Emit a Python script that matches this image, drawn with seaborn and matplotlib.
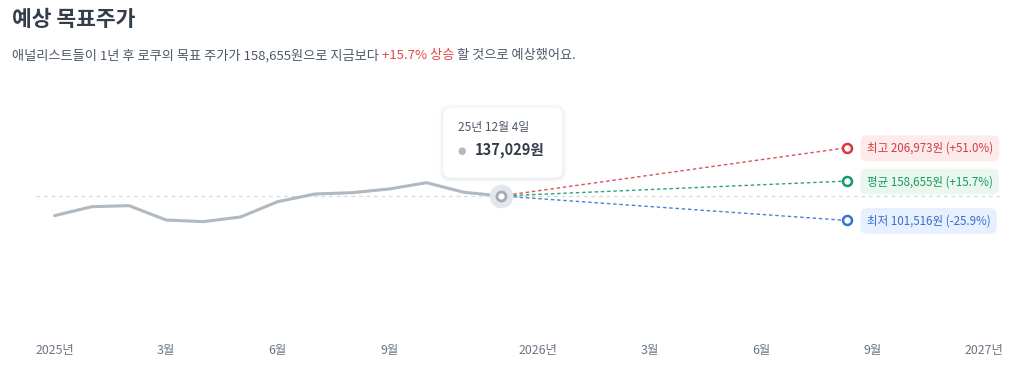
import matplotlib
matplotlib.use("Agg")
import numpy as np
import pandas as pd
import seaborn as sns
import matplotlib.pyplot as plt
from matplotlib.patches import FancyBboxPatch
from matplotlib.transforms import IdentityTransform

# ---------------- data ----------------
hist_idx = list(range(13))
hist_price = [108500, 121500, 123000, 102200, 99800, 106600, 128800,
              139900, 141800, 147200, 156300, 142400, 137029]
target_idx = 21.3
target_names = ["최고", "평균", "최저"]
target_price = [206973, 158655, 101516]
target_pct = ["+51.0%", "+15.7%", "-25.9%"]
tick_pos = [0, 3, 6, 9, 13, 16, 19, 22, 25]
tick_labels = ["2025년", "3월", "6월", "9월", "2026년", "3월", "6월", "9월", "2027년"]
current_date = "25년 12월 4일"
title = "예상 목표주가"
sub_a = "애널리스트들이 1년 후 로쿠의 목표 주가가 158,655원으로 지금보다 "
sub_b = "+15.7% 상승"
sub_c = " 할 것으로 예상했어요."

# ---------------- style ----------------
sns.set_theme(style="white")
plt.rcParams["font.family"] = ["Noto Sans CJK KR", "DejaVu Sans"]

line_c = ["#d9363e", "#17996b", "#3574d4"]
dash_c = ["#d9535a", "#2aa57a", "#4a80d8"]
box_bg = ["#fdeaea", "#e9f7ef", "#e6f0fe"]
txt_c = ["#d33b41", "#1a9a60", "#3a6dcc"]

W, H = 1019, 370
fig = plt.figure(figsize=(W / 100, H / 100), dpi=100)
fig.patch.set_facecolor("white")
ax = fig.add_axes([36 / W, (H - 330) / H, (1003 - 36) / W, (330 - 80) / H])
ax.set_facecolor("white")

df = pd.DataFrame({"idx": hist_idx, "price": hist_price})
sns.lineplot(data=df, x="idx", y="price", ax=ax, color="#b0b8c1", lw=2.2,
             solid_capstyle="round", solid_joinstyle="round", zorder=3)

cur_x, cur_v = hist_idx[-1], hist_price[-1]
ax.axhline(cur_v, color="#d5d9de", lw=0.9, ls=(0, (3, 3)), zorder=1)

for i in range(3):
    ax.plot([cur_x, target_idx], [cur_v, target_price[i]], color=dash_c[i],
            lw=1.0, ls=(0, (2.5, 2)), zorder=2)
    ax.scatter([target_idx], [target_price[i]], s=42, facecolor="white",
               edgecolor=line_c[i], linewidth=1.8, zorder=5)
    ax.annotate(f"{target_names[i]} {target_price[i]:,}원 ({target_pct[i]})",
                xy=(target_idx, target_price[i]), xycoords="data",
                xytext=(20, -0.5), textcoords="offset pixels",
                ha="left", va="center", fontsize=8.3, color=txt_c[i],
                bbox=dict(boxstyle="round,pad=0.55,rounding_size=0.55",
                          fc=box_bg[i], ec="none"), zorder=6)

# current point halo + marker
ax.scatter([cur_x], [cur_v], s=290, color="#e3e6ea", zorder=4, linewidth=0)
ax.scatter([cur_x], [cur_v], s=42, facecolor="white", edgecolor="#a3abb5",
           linewidth=2.0, zorder=6)

ax.set_xlim(-0.5, 25.5)
ax.set_ylim(-57300, 305200)
ax.set_xticks(tick_pos)
ax.set_xticklabels(tick_labels)
ax.set_yticks([])
ax.set_xlabel("")
ax.set_ylabel("")
ax.tick_params(axis="x", length=0, pad=10, labelsize=8.9, labelcolor="#6b7684")
for s in ax.spines.values():
    s.set_visible(False)

# tooltip
fig.canvas.draw()
px, py = ax.transData.transform((cur_x, cur_v))
bx, by, bw, bh = px - 58, py + 18, 120, 71
for k, a in [(8, 0.012), (5, 0.02), (2, 0.035)]:
    sh = FancyBboxPatch((bx - k / 2, by - k / 2 - 1), bw + k, bh + k,
                        boxstyle="round,pad=0,rounding_size=%d" % (8 + k / 2),
                        transform=IdentityTransform(), fc="black", ec="none",
                        alpha=a, zorder=7, clip_on=False)
    ax.add_artist(sh)
box = FancyBboxPatch((bx, by), bw, bh, boxstyle="round,pad=0,rounding_size=8",
                     transform=IdentityTransform(), fc="white", ec="#f0f2f4",
                     lw=0.6, zorder=8, clip_on=False)
ax.add_artist(box)
ax.annotate(current_date, xy=(cur_x, cur_v), xycoords="data",
            xytext=(-43, 68), textcoords="offset pixels", ha="left", va="center",
            fontsize=8.6, color="#4e5968", zorder=9, annotation_clip=False)
ax.annotate("●", xy=(cur_x, cur_v), xycoords="data",
            xytext=(-39, 45), textcoords="offset pixels", ha="center", va="center",
            fontsize=7, color="#b0b8c1", zorder=9, annotation_clip=False,
            family="DejaVu Sans")
ax.annotate(f"{cur_v:,}원", xy=(cur_x, cur_v), xycoords="data",
            xytext=(-26, 46), textcoords="offset pixels", ha="left", va="center",
            fontsize=10.5, fontweight="bold", color="#333d4b", zorder=9,
            annotation_clip=False)

# title & subtitle
fig.text(12 / W, 1 - 20 / H, title, ha="left", va="center", fontsize=15.5,
         fontweight="bold", color="#333d4b")
t1 = fig.text(12 / W, 1 - 56 / H, sub_a, ha="left", va="center",
              fontsize=9.5, color="#4e5968")
t2 = ax.annotate(sub_b, xy=(1, 0.5), xycoords=t1, ha="left", va="center",
                 fontsize=9.5, color="#e5484d", annotation_clip=False)
t3 = ax.annotate(sub_c, xy=(1, 0.5), xycoords=t2, ha="left", va="center",
                 fontsize=9.5, color="#4e5968", annotation_clip=False)

fig.savefig("out.png", dpi=100, facecolor="white")
